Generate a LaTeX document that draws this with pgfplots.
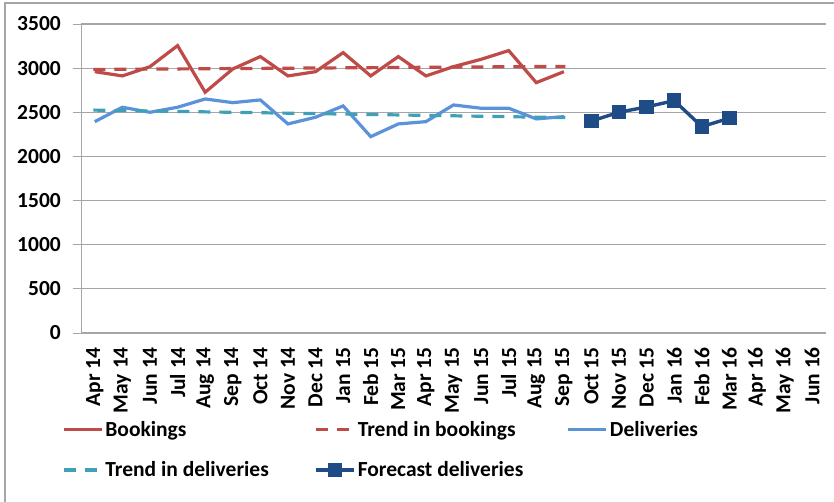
\documentclass[border=0pt]{standalone}
\usepackage{pgfplots}
\pgfplotsset{compat=1.18}
\usepackage{fontspec}
\setmainfont{Carlito}

\definecolor{bookc}{HTML}{BE4B48}
\definecolor{delc}{HTML}{5B93DB}
\definecolor{tdelc}{HTML}{3FA0B8}
\definecolor{forec}{HTML}{1F4C87}
\definecolor{gridc}{HTML}{A6A6A6}

\begin{document}
\begin{tikzpicture}[x=1bp,y=1bp]
\path[use as bounding box] (0,0) rectangle (834,-502);
\draw[gridc, line width=1.2bp] (5,-502) -- (5,-3) -- (834,-3);
\begin{axis}[
  at={(81bp,-333bp)}, anchor=south west,
  scale only axis, width=745bp, height=309bp,
  xmin=-0.5, xmax=26.5, ymin=0, ymax=3500,
  ytick={0,500,...,3500},
  xtick={0,...,26},
  xticklabels={Apr 14,May 14,Jun 14,Jul 14,Aug 14,Sep 14,Oct 14,Nov 14,Dec 14,Jan 15,Feb 15,Mar 15,Apr 15,May 15,Jun 15,Jul 15,Aug 15,Sep 15,Oct 15,Nov 15,Dec 15,Jan 16,Feb 16,Mar 16,Apr 16,May 16,Jun 16},
  minor xtick={-0.5,0.5,...,26.5},
  xtick style={draw=none},
  minor tick length=7bp,
  major tick length=8bp,
  tick align=outside,
  xtick pos=bottom, ytick pos=left,
  axis x line*=bottom, axis y line*=left,
  axis line style={gridc, line width=1bp},
  every tick/.style={gridc, line width=1bp},
  minor x tick style={gridc, line width=1bp},
  ymajorgrids, major grid style={gridc, line width=1.2bp},
  /pgf/number format/assume math mode=true,
  /pgf/number format/set thousands separator={},
  tick label style={font=\fontsize{21.5bp}{25bp}\selectfont\bfseries},
  xticklabel style={rotate=90, anchor=east, inner sep=6bp},
  yticklabel style={inner sep=12bp},
  legend columns=3,
  legend style={draw=none, fill=none, at={(0,0)}, anchor=north west,
    xshift=-19bp, yshift=-86bp,
    font=\fontsize{21.5bp}{25bp}\selectfont\bfseries,
    row sep=20bp, column sep=0bp, inner sep=0pt},
  legend cell align=left,
  legend image code/.code={\draw[mark repeat=2,mark phase=2,#1] plot coordinates {(0bp,0bp) (19bp,0bp) (38bp,0bp)};},
]
\addplot[bookc, line width=3.2bp, mark=none] coordinates {
(0,2960) (1,2912) (2,3017) (3,3255) (4,2727) (5,2991) (6,3131) (7,2912) (8,2960)
(9,3176) (10,2912) (11,3131) (12,2912) (13,3017) (14,3100) (15,3199) (16,2836) (17,2960)};
\addlegendentry{\makebox[207bp][l]{Bookings}}
\addplot[bookc, line width=3.2bp, mark=none, dash pattern=on 12bp off 9bp] coordinates {
(-0.05,2985) (17.05,3020)};
\addlegendentry{\makebox[207bp][l]{Trend in bookings}}
\addplot[delc, line width=3.2bp, mark=none] coordinates {
(0,2394) (1,2557) (2,2500) (3,2557) (4,2651) (5,2609) (6,2640) (7,2368) (8,2444)
(9,2572) (10,2224) (11,2368) (12,2394) (13,2583) (14,2546) (15,2546) (16,2425) (17,2451)};
\addlegendentry{Deliveries}
\addplot[tdelc, line width=3.2bp, mark=none, dash pattern=on 12bp off 9bp] coordinates {
(-0.05,2525) (17.05,2440)};
\addlegendentry{\makebox[207bp][l]{Trend in deliveries}}
\addplot[forec, line width=3.4bp, mark=square*, mark size=5.5bp, mark options={solid}] coordinates {
(18,2402) (19,2500) (20,2561) (21,2632) (22,2338) (23,2433)};
\addlegendentry{Forecast deliveries}
\end{axis}
\end{tikzpicture}
\end{document}
